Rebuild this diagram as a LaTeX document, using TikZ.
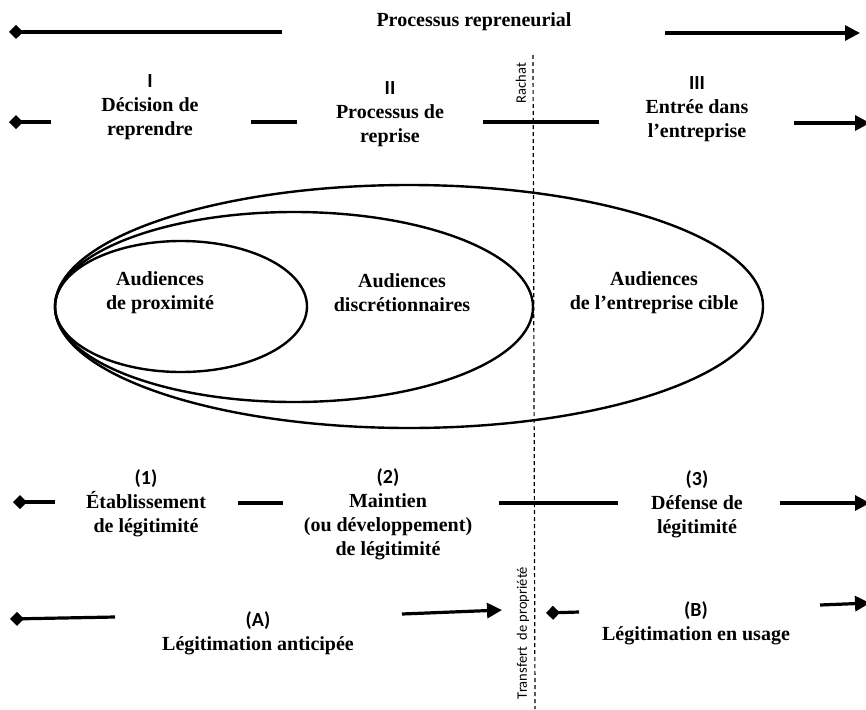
\documentclass[tikz,border=0pt]{standalone}
\usepackage{fontspec}
\setmainfont{Liberation Serif}
\newfontfamily\calibri{Carlito}[BoldFont={Carlito Bold}]
\usetikzlibrary{arrows.meta}

\tikzset{
	lbl/.style={align=center, inner sep=0pt, font=\fontsize{20}{24}\selectfont\bfseries},
	side/.style={rotate=90, inner sep=0pt, font=\calibri\fontsize{14.5}{17}\selectfont},
	bar/.style={line width=3.2pt},
	startbar/.style={bar, {Diamond[length=14pt,width=14pt]}-},
	endbar/.style={bar, -{Triangle[length=15pt,width=15pt]}},
	ring/.style={line width=2.4pt},
	cut/.style={line width=1.2pt, dash pattern=on 4pt off 3pt}
}

\begin{document}
\begin{tikzpicture}[x=1pt, y=-1pt]
	
	\useasboundingbox (0,0) rectangle (866,709);
	
	% process
	\node[lbl] (proc) at (474, 22) {Processus repreneurial};
	\node[lbl] (I)   at (150, 107) {{\calibri\bfseries I}\\Décision de\\reprendre};
	\node[lbl] (II)  at (390, 114) {{\calibri\bfseries II}\\Processus de\\reprise};
	\node[lbl] (III) at (697, 109) {{\calibri\bfseries III}\\Entrée dans\\l’entreprise};
	
	\coordinate (p0) at (9, 32);
	\coordinate (p1) at (282, 32);
	\coordinate (p2) at (665, 33);
	\coordinate (p3) at (860, 33);
	\coordinate (s0) at (9, 122);
	\coordinate (s1) at (51, 122);
	\coordinate (s2) at (251, 122);
	\coordinate (s3) at (297, 122);
	\coordinate (s4) at (483, 122);
	\coordinate (s5) at (599, 122);
	\coordinate (s6) at (794, 123);
	\coordinate (s7) at (870, 123);
	
	\path[startbar] (p0) edge (p1);
	\path[endbar] (p2) edge (p3);
	\path[startbar] (s0) edge (s1);
	\path[bar] (s2) edge (s3);
	\path[bar] (s4) edge (s5);
	\path[endbar] (s6) edge (s7);
	
	% audiences
	\draw[ring] (409, 306.5) ellipse [x radius=354pt, y radius=121.5pt];
	\draw[ring] (294, 307) ellipse [x radius=239pt, y radius=95pt];
	\draw[ring] (181, 306.5) ellipse [x radius=126pt, y radius=65.5pt];
	
	\node[lbl] (prox) at (160, 293) {Audiences\\de proximité};
	\node[lbl] (disc) at (402, 293) {Audiences\\discrétionnaires};
	\node[lbl] (cible) at (654, 293) {Audiences\\de l’entreprise cible};
	
	% legitimity
	\node[lbl] (one)   at (146, 503) {{\calibri\bfseries (1)}\\Établissement\\de légitimité};
	\node[lbl] (two)   at (388, 514) {{\calibri\bfseries (2)}\\Maintien\\(ou développement)\\de légitimité};
	\node[lbl] (three) at (697, 504) {{\calibri\bfseries (3)}\\Défense de\\légitimité};
	\node[lbl] (A) at (258, 633) {{\calibri\bfseries (A)}\\Légitimation anticipée};
	\node[lbl] (B) at (696, 623) {{\calibri\bfseries (B)}\\Légitimation en usage};
	
	\coordinate (l0) at (13, 502);
	\coordinate (l1) at (55, 502);
	\coordinate (l2) at (238, 503);
	\coordinate (l3) at (283, 503);
	\coordinate (l4) at (499, 503);
	\coordinate (l5) at (618, 503);
	\coordinate (l6) at (780, 503);
	\coordinate (l7) at (870, 503);
	\coordinate (a0) at (10, 619);
	\coordinate (a1) at (115, 617);
	\coordinate (a2) at (402, 614);
	\coordinate (a3) at (502, 610);
	\coordinate (b0) at (546, 613);
	\coordinate (b1) at (579, 612);
	\coordinate (b2) at (820, 605);
	\coordinate (b3) at (870, 603);
	
	\path[startbar] (l0) edge (l1);
	\path[bar] (l2) edge (l3);
	\path[bar] (l4) edge (l5);
	\path[endbar] (l6) edge (l7);
	\path[startbar] (a0) edge (a1);
	\path[endbar] (a2) edge (a3);
	\path[startbar] (b0) edge (b1);
	\path[endbar] (b2) edge (b3);
	
	% ownership
	\coordinate (c0) at (533, 55);
	\coordinate (c1) at (535, 709);
	\path[cut] (c0) edge (c1);
	\node[side] (rachat) at (521, 83) {Rachat};
	\node[side] (transfert) at (523, 633) {Transfert\ \ de propriété};
	
\end{tikzpicture}
\end{document}
